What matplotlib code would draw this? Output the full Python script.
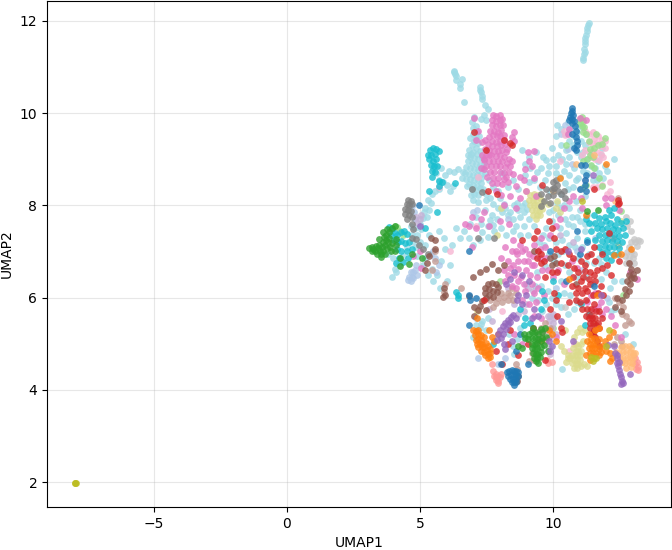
#!/usr/bin/env python3
# -*- coding: utf-8 -*-
import matplotlib
matplotlib.use('Agg')
import matplotlib.pyplot as plt

# points, one list per colour (UMAP1, UMAP2)
light_cyan = [
    (11.35,11.95),(11.33,11.9),(11.3,11.84),(11.27,11.77),(11.25,11.7),(11.22,11.63),(11.2,11.56),(11.2,11.5),
    (11.17,11.38),(11.16,11.28),(11.19,11.32),(11.12,11.2),(11.12,11.15),
    (6.27,10.92),(6.3,10.88),(6.33,10.85),(6.37,10.8),(6.35,10.72),(6.58,10.74),(6.5,10.62),(6.5,10.55),
    (7.25,10.57),(7.27,10.5),(7.3,10.45),(7.33,10.38),(7.35,10.3),(6.64,10.24),(7.43,10.18),(7.55,10.08),
    (7.05,9.92),(7.3,9.88),(7.4,9.95),(7.5,9.85),(6.95,9.8),(7.15,9.6),(7.0,9.55),(6.9,9.45),(7.05,9.4),(7.2,9.35),
    (6.95,9.3),(7.1,9.25),(6.85,9.2),(7.0,9.15),(7.15,9.12),(7.25,9.18),(6.9,9.05),(7.05,9.02),(7.2,9.0),(7.35,9.05),
    (6.8,8.95),(6.95,8.92),(7.1,8.9),(7.25,8.88),(7.4,8.92),(6.75,8.82),(6.9,8.8),(7.05,8.78),(7.2,8.76),(7.35,8.8),
    (6.7,8.7),(6.85,8.68),(7.0,8.66),(7.15,8.65),(7.3,8.68),(7.45,8.7),(6.75,8.58),(6.9,8.56),(7.05,8.55),(7.2,8.54),
    (6.85,8.47),(7.0,8.45),(7.15,8.42),(7.3,8.48),(6.95,8.36),(7.1,8.33),(7.25,8.38),(7.05,8.25),(6.3,8.72),(6.1,8.75),
    (6.45,8.78),(6.6,8.6),(5.95,8.65),(5.85,8.5),(5.7,8.35),(5.55,8.3),(5.45,8.25),(5.7,8.55),(5.6,8.7),(5.5,8.8),
    (5.65,8.85),(5.8,8.8),(6.25,8.42),(6.15,8.3),(6.0,8.45),(5.4,8.05),(5.3,8.12),(5.2,7.95),(5.35,7.9),(5.15,7.85),
    (5.25,7.75),(5.1,7.72),(5.0,7.6),(5.05,7.48),(4.8,7.5),(4.9,7.35),(4.75,7.2),(4.7,7.35),(4.65,7.55),(4.85,7.1),
    (8.0,8.15),(8.3,8.4),(8.5,8.55),(8.7,8.35),(8.1,8.7),(7.6,8.55),(7.75,8.4),(7.5,8.25),(7.65,8.15),(7.95,8.3),
    (8.2,7.95),(8.4,7.85),(8.55,8.0),(8.7,7.9),(8.9,7.85),(8.75,7.75),(8.5,7.7),(8.3,7.8),(8.65,8.05),(8.95,8.05),
    (7.9,7.7),(7.7,7.8),(7.45,7.9),(7.55,7.55),(7.3,7.6),(7.1,7.75),(6.9,7.6),(7.8,7.45),(8.05,7.5),(8.25,7.35),
    (6.85,7.3),(6.65,7.45),(7.0,7.15),(7.25,7.25),(8.5,7.45),(8.75,7.35),(8.9,7.55),(9.1,7.7),(9.3,7.55),(9.05,7.35),
    (9.55,8.8),(9.8,8.7),(9.1,9.05),(9.35,9.15),(8.85,9.2),(8.95,8.9),(9.15,8.8),(8.95,8.65),(9.3,8.55),(9.5,8.4),
    (9.7,8.55),(9.9,8.3),(10.1,8.85),(10.2,9.1),(10.3,9.3),(10.1,9.5),(10.3,9.65),(10.15,9.75),(9.95,9.25),(9.75,8.98),
    (10.45,9.55),(10.6,9.4),(10.5,9.2),(10.35,9.0),(10.6,9.05),(10.75,9.3),(10.8,9.5),(10.65,9.65),(10.9,9.15),(11.05,9.4),
    (11.2,9.3),(11.05,9.05),(11.3,9.0),(11.25,9.55),(11.1,9.7),(11.45,8.85),(11.6,8.8),(11.7,8.95),(11.8,9.1),(11.85,9.25),
    (11.75,8.7),(11.65,8.55),(10.4,8.75),(10.6,8.65),(10.8,8.8),(10.95,8.6),(10.75,8.4),(10.55,8.35),(10.3,8.25),(10.15,8.05),
    (10.4,8.0),(10.6,7.95),(10.85,8.1),(11.05,8.35),(11.2,8.2),(11.0,7.9),(10.7,7.75),(10.45,7.7),(10.2,7.8),(9.95,7.65),
    (10.25,7.5),(10.5,7.4),(10.75,7.55),(11.0,7.65),(11.2,7.45),(10.9,7.3),(10.6,7.15),(10.35,7.25),(10.1,7.2),(9.85,7.3),
    (9.65,7.15),(9.45,7.0),(9.85,6.95),(10.05,6.8),(11.3,7.8),(11.45,7.6),(11.1,7.1),(10.95,6.85),(11.35,6.95),(11.55,6.75),
    (11.75,6.85),(12.0,6.55),(12.3,6.35),(11.8,6.4),(11.5,6.3),(11.25,6.45),(10.9,6.45),(10.6,6.55),(10.45,6.7),(10.3,6.35),
    (10.65,6.05),(10.9,5.9),(10.55,5.65),(10.3,5.8),(9.95,6.0),(9.75,5.85),(9.6,5.7),(9.9,5.6),(8.5,4.95),(8.65,5.1),
    (8.35,5.2),(7.55,5.55),(7.35,5.5),(7.1,5.4),(7.25,5.35),(7.5,5.3),(6.0,6.35),(5.75,6.2),(5.5,6.35),(4.9,6.9),(5.1,6.7),
    (5.3,6.5),(5.45,6.62),(5.65,6.5),(5.2,6.85),(4.1,6.55),(3.95,6.45),(4.05,6.62),(4.2,6.7),(4.35,6.9),(4.5,7.1),(3.8,6.95),
    (4.0,6.85),(9.0,6.3),(9.4,6.55),(9.55,6.25),(9.2,6.0),(9.45,5.95),(13.0,5.0),(12.1,5.9),(12.35,5.75),
    (6.98,9.68),(7.12,9.72),(7.22,9.5),(6.92,9.12),(7.12,9.48),(6.82,9.08),(7.28,8.6),(6.62,8.72),(6.78,8.42),(7.38,8.35),
    (7.18,8.22),(6.92,8.22),(7.0,8.12),(7.2,8.08),(7.48,8.12),(7.75,8.02),(7.92,7.95),(8.1,7.85),(7.62,7.68),(7.32,7.42),
    (7.55,7.32),(7.75,7.58),(8.62,7.55),(8.82,7.98),(9.02,7.92),(9.1,8.5),(9.42,8.72),(9.62,9.05),(9.85,8.85),(10.02,9.0),
    (10.25,8.62),(10.5,8.9),(10.85,8.55),(11.15,8.75),(10.45,8.48),(10.12,8.7),(10.9,7.75),(10.55,7.6),(10.3,7.95),(10.02,7.9),
    (9.85,7.85),(9.75,7.5),(9.62,7.35),(9.48,7.2),(10.82,7.1),(11.22,7.6),(10.38,7.02),(9.72,6.68),(10.2,6.95),(10.42,6.1),
    (10.12,5.85),(10.78,5.75),(9.82,6.15),(9.32,6.25),(12.3,9.0),(11.95,8.85),(10.95,9.75),(10.55,9.8),(10.9,9.6),(11.15,9.15),
    (11.3,8.7),(11.5,8.55),(11.9,8.6),(12.02,8.75),(11.82,6.72),(11.25,6.75),(12.2,5.7),(12.15,6.2),(12.6,6.35),(12.7,5.2),
    (7.0,5.15),(7.3,5.42),(8.75,5.35),(8.9,5.12),(8.55,4.78),(9.85,4.9),(10.35,4.45),(6.5,7.3),(6.2,7.15),(5.9,7.3),(6.35,7.5),
    (5.7,7.45),(5.95,7.05),(5.8,6.8),(6.15,6.7),(5.0,7.2),(5.2,7.15),(5.35,7.35),
]
pink = [
    (7.75,9.95),(7.85,9.93),(8.0,9.95),(7.7,9.85),(7.85,9.83),(8.0,9.85),(8.1,9.88),(7.7,9.75),(7.85,9.72),(8.0,9.74),(8.12,9.75),
    (7.78,9.62),(7.92,9.6),(8.05,9.63),(7.75,9.52),(7.9,9.5),(8.02,9.5),(8.15,9.53),(7.6,9.48),(7.45,9.42),(7.7,9.4),(7.85,9.38),
    (8.0,9.4),(8.15,9.42),(7.35,9.38),(7.55,9.33),(7.72,9.28),(7.88,9.28),(8.05,9.3),(8.2,9.32),(7.45,9.22),(7.6,9.2),(7.78,9.18),
    (7.95,9.18),(8.1,9.2),(8.25,9.15),(7.35,9.1),(7.5,9.08),(7.68,9.08),(7.85,9.06),(8.0,9.08),(8.18,9.05),(8.35,9.0),(7.4,8.98),
    (7.58,8.96),(7.75,8.95),(7.92,8.95),(8.1,8.95),(8.28,8.92),(7.5,8.85),(7.68,8.85),(7.85,8.85),(8.02,8.85),(8.2,8.82),(8.4,8.85),
    (7.62,8.72),(7.8,8.72),(8.0,8.72),(8.18,8.7),(8.35,8.72),(7.75,8.6),(7.95,8.6),(8.15,8.58),(7.9,8.48),(8.1,8.46),(7.85,8.3),
    (8.3,8.5),(7.05,9.9),(7.2,9.62),(7.1,9.42),(8.55,9.6),(8.45,9.48),(8.55,9.4),(8.4,8.2),(8.6,8.42),(8.75,8.62),(8.9,8.55),(8.95,8.78),
    (9.1,8.95),(9.2,8.85),(9.28,8.6),(9.0,8.3),(9.35,8.2),(8.75,8.15),(8.6,7.95),(9.05,9.15),(9.3,9.18),(8.15,8.0),(7.4,7.85),(7.3,7.7),
    (7.6,7.55),(6.95,7.75),(6.7,7.6),(6.85,7.55),(7.1,7.5),(8.0,7.65),(8.35,7.6),(8.5,7.25),(8.75,7.15),(8.45,7.0),(8.2,7.1),(8.65,6.95),
    (8.3,6.8),(8.05,6.85),(8.5,6.7),(8.7,6.62),(8.9,6.8),(9.1,6.95),(9.3,7.15),(9.55,7.3),(9.7,7.1),(9.9,7.35),(9.5,6.85),(9.3,6.7),(9.15,6.5),
    (9.0,6.6),(9.4,6.45),(9.6,6.6),(9.2,6.3),(8.95,6.15),(9.3,6.1),(8.7,6.35),(8.55,6.5),(8.45,6.25),(8.3,6.5),(8.15,6.6),(8.85,5.95),(9.1,5.85),
    (9.35,5.9),(9.55,5.55),(9.3,5.6),(10.1,7.55),(10.25,7.7),(10.4,7.95),(10.6,8.1),(10.75,8.2),(11.05,8.15),(11.1,7.95),(9.8,6.6),(10.0,6.45),
    (10.2,6.6),(10.4,6.3),(10.7,6.8),(10.9,6.65),(11.6,6.1),(11.8,5.9),(11.55,5.75),(11.85,5.65),(12.2,5.6),(12.35,5.4),(11.3,5.9),(12.9,6.55),
    (13.15,6.4),(12.55,5.15),(12.5,7.9),(12.0,8.0),(11.95,8.15),(12.2,8.15),(11.0,9.9),(11.25,9.85),(10.55,9.55),(10.6,9.65),
    (5.0,7.0),(5.05,6.65),(7.4,9.0),(7.3,8.8),(6.95,7.1),(4.75,6.9),(8.55,5.2),(8.85,5.0),(9.6,5.25),(9.45,5.05),(10.1,5.15),
    (7.62,9.62),(7.58,9.1),(7.42,8.78),(7.72,8.48),(8.22,8.62),(8.28,9.22),(7.52,8.62),(8.05,8.22),(8.45,8.95),(8.5,8.68),
    (9.05,6.8),(8.8,6.45),(8.62,6.2),(8.4,6.65),(9.45,6.2),(9.65,6.05),(8.92,6.3),(9.2,6.7),(9.5,7.05),(8.95,7.05),(8.7,6.8),
    (8.2,6.35),(8.6,7.0),(8.85,7.0),(9.25,6.9),(9.75,6.85),(11.45,6.05),(11.7,5.8),(12.0,5.75),
]
light_pink = [
    (11.2,9.62),(11.35,9.55),(11.5,9.6),(11.55,9.45),(11.7,9.5),(11.85,9.42),(11.95,9.4),(11.35,9.38),(11.5,9.32),(11.65,9.35),(11.8,9.28),
    (11.95,9.25),(11.2,9.2),(11.35,9.15),(11.5,9.18),(11.65,9.15),(11.8,9.12),(11.1,9.1),(11.45,9.05),(11.6,9.0),(11.75,8.98),
    (11.9,9.05),(10.4,9.62),(10.45,9.52),(11.5,8.4),(11.65,8.4),(11.85,8.45),(12.15,8.5),(12.05,8.25),(12.15,8.3),(7.2,8.62),(10.25,8.95),
    (5.7,8.4),(6.15,7.0),(7.1,7.55),(8.1,5.7),(10.6,4.85),(10.8,5.0),
]
light_green = [
    (11.03,9.87),(11.1,9.92),(11.02,9.78),(11.12,9.82),(11.08,9.72),(11.18,9.7),(11.15,9.6),(11.25,9.55),(11.4,9.22),(11.55,9.25),(11.38,9.1),
    (11.5,9.05),(11.7,9.3),(11.95,9.47),(11.85,9.32),(11.3,9.0),(11.42,8.88),(11.55,8.8),(11.35,9.4),(11.62,9.55),(11.15,8.95),(10.5,9.3),
    (11.72,8.6),(11.85,8.42),(11.25,8.45),(11.1,8.38),(12.55,7.87),(4.15,7.52),(4.25,7.45),(4.05,7.55),(4.35,7.35),(8.0,6.35),(10.0,5.35),(12.65,6.05),
]
light_blue = [
    (4.65,6.35),(4.7,6.45),(4.75,6.55),(4.85,6.7),(4.8,6.6),(4.65,6.55),(4.6,6.45),(4.75,6.42),(4.55,6.38),(4.9,6.5),(5.4,6.95),(5.5,7.0),
    (5.55,6.85),(5.6,6.55),(5.7,6.7),(4.7,7.98),(4.78,7.85),(4.8,7.7),(7.0,7.85),(7.15,7.9),(8.15,8.02),(8.3,7.7),(10.1,6.2),(12.05,6.0),(10.3,9.55),
    (10.45,9.75),(10.55,9.22),(10.7,8.9),(7.95,4.55),(8.2,4.7),(7.1,5.55),(7.2,4.7),(10.9,7.0),(11.1,6.6),(11.6,7.3),
]
cyan_dark = [
    (5.38,9.2),(5.5,9.25),(5.6,9.22),(5.3,9.1),(5.42,9.08),(5.55,9.12),(5.7,9.18),(5.35,9.0),(5.48,8.97),(5.62,9.0),(5.4,8.87),(5.52,8.85),(5.65,8.85),
    (5.45,8.75),(5.55,8.72),(5.45,8.62),(5.7,8.52),(5.72,8.42),(5.82,8.5),(5.35,8.3),(6.32,8.48),(5.63,7.85),(3.85,7.52),(3.95,7.48),(4.05,7.4),(3.9,7.35),
    (4.15,7.35),(4.28,7.42),(4.4,7.45),(4.5,7.38),(4.02,7.25),(4.18,7.2),(4.3,7.22),(4.45,7.18),(4.6,7.2),(4.15,7.05),(4.3,7.0),(4.5,7.0),(4.7,7.05),
    (4.2,6.85),(4.1,6.75),(4.35,6.78),(4.55,6.85),(5.2,7.5),(6.35,6.12),(6.45,6.05),(6.42,5.98),(7.75,5.0),
    (11.55,7.78),(11.75,7.72),(11.95,7.75),(12.2,7.8),(12.4,7.7),(11.6,7.62),(11.8,7.6),(12.0,7.65),(12.15,7.62),(12.35,7.58),(12.55,7.62),(11.65,7.5),(11.85,7.48),
    (12.05,7.5),(12.25,7.48),(12.45,7.46),(12.65,7.5),(11.75,7.36),(11.95,7.35),(12.12,7.38),(12.3,7.35),(12.5,7.34),(12.7,7.35),(11.6,7.25),(11.85,7.22),(12.05,7.25),
    (12.22,7.22),(12.4,7.22),(12.6,7.2),(11.75,7.1),(11.95,7.12),(12.12,7.1),(12.3,7.1),(12.5,7.08),(11.85,6.98),(12.05,6.98),(12.25,6.95),(12.45,6.95),(12.0,6.85),
    (12.2,6.82),(11.35,7.62),(11.45,7.45),(12.1,7.9),(12.3,7.95),(11.3,7.25),(11.25,7.7),(12.75,7.65),(9.55,5.75),(9.65,5.95),(9.6,6.15),(10.0,6.35),(10.2,6.05),
    (11.35,5.65),(11.05,5.85),(11.2,5.4),(8.95,5.55),(8.75,5.75),(8.9,5.4),(9.15,5.45),
]
gray = [
    (4.55,8.12),(4.65,8.1),(4.5,8.02),(4.6,8.0),(4.72,8.02),(4.45,7.92),(4.55,7.9),(4.68,7.88),(4.45,7.82),(4.58,7.78),(4.5,7.7),(4.72,7.75),(4.7,7.6),(4.75,7.48),
    (4.85,7.28),(4.95,7.15),(5.1,7.05),(5.3,6.95),(4.7,7.3),(6.95,8.35),(7.2,7.3),(7.35,8.28),(9.55,8.25),(9.65,8.1),(9.8,8.2),(9.9,8.05),(9.95,8.35),(10.0,8.5),(10.1,8.55),
    (10.15,8.45),(10.05,8.38),(10.2,8.3),(10.3,8.25),(10.4,8.3),(10.0,8.22),(9.75,8.35),(10.45,8.15),(9.55,7.98),(7.8,7.3),
]
light_gray = [
    (12.75,7.75),(12.9,7.65),(12.8,7.55),(12.95,7.45),(13.05,7.28),(13.2,7.25),(13.28,7.22),(13.1,7.2),(12.95,7.2),(12.85,7.1),(13.15,7.12),(12.8,6.98),(12.95,6.98),
    (13.05,6.95),(12.7,6.9),(12.85,6.85),(13.0,6.85),(12.9,6.72),(13.05,6.75),(12.75,6.75),(11.0,8.35),(10.45,5.8),(9.8,4.95),
]
brown = [
    (7.55,6.3),(7.7,6.32),(7.85,6.3),(7.95,6.22),(7.45,6.2),(7.6,6.18),(7.75,6.15),(7.9,6.12),(7.45,6.1),(7.6,6.05),(7.75,6.02),(7.5,5.98),(7.35,5.92),(7.25,5.82),
    (7.2,5.72),(7.05,5.6),(7.0,6.45),(7.25,6.55),(7.5,6.62),(7.7,6.72),(7.95,6.6),(8.15,6.7),(5.9,6.2),(5.95,6.05),(5.85,6.02),(6.85,6.03),(7.5,5.72),(7.05,5.8),
    (12.85,6.75),(12.95,6.62),(13.0,6.52),(12.85,6.48),(12.95,6.42),(12.8,6.35),(12.9,6.3),(13.05,6.42),(12.7,6.18),(12.85,6.15),(12.75,6.05),(12.6,5.95),(12.4,6.0),
    (12.35,5.8),(12.55,5.7),(13.15,6.6),(10.05,6.9),(9.9,6.85),(10.1,6.75),(9.95,6.7),(9.3,7.0),(8.65,4.2),(8.7,4.3),(10.85,6.3),
    (5.25,6.75),(5.2,6.6),(5.35,6.9),(5.55,7.05),(5.4,7.3),(5.55,7.25),
]
light_brown = [
    (8.05,6.1),(8.15,6.02),(8.3,6.1),(8.4,6.05),(7.95,5.98),(7.85,5.88),(8.1,5.9),(8.3,5.95),(8.5,5.95),(8.45,6.2),(8.6,6.1),(7.65,5.95),(7.75,5.8),
    (9.7,5.45),(9.55,5.35),(9.75,5.3),(9.6,5.15),(9.85,5.15),(9.4,5.25),(9.9,5.35),(9.7,5.05),(9.2,4.8),(9.3,4.65),(9.1,4.62),(9.35,4.75),(8.65,4.45),(8.6,4.55),
    (12.6,5.65),(12.75,5.6),(12.85,5.5),(12.95,5.45),(12.7,5.4),(12.35,6.0),(12.5,5.9),(12.65,5.8),(12.4,5.15),(12.55,5.05),(12.6,4.95),(12.3,5.0),(12.25,7.3),
    (5.9,6.12),(5.95,6.3),(6.55,6.2),(5.55,7.0),(5.45,6.6),(5.55,6.8),(12.45,8.15),
]
red = [
    (7.05,9.6),(8.15,9.42),(8.4,9.35),(8.45,9.3),(7.5,9.2),(7.55,8.3),(7.9,8.25),(11.55,8.35),(12.45,8.12),(12.45,8.02),(12.5,8.05),
    (10.05,7.3),(10.1,7.05),(10.3,7.0),(10.6,6.95),(10.75,6.85),(10.55,6.7),(10.8,6.65),(11.05,6.8),(10.95,6.55),(11.2,6.7),(11.3,6.9),(11.45,6.95),(11.6,6.8),
    (11.15,6.45),(11.4,6.55),(11.65,6.6),(11.85,6.65),(12.05,6.7),(10.7,6.25),(10.95,6.2),(11.2,6.2),(11.4,6.3),(11.6,6.35),(11.8,6.25),(10.6,5.9),(10.85,5.95),(11.0,5.9),
    (11.25,5.95),(11.5,6.05),(11.7,6.1),(11.9,6.05),(11.1,5.75),(11.3,5.75),(11.55,5.85),(11.75,5.7),(11.45,5.62),(11.6,5.55),(11.35,5.55),(11.5,5.45),(11.7,5.45),(11.85,5.55),
    (11.4,5.35),(11.55,5.3),(11.75,5.35),(11.45,5.2),(11.6,5.15),(11.65,5.05),(11.75,4.95),(10.3,6.75),(9.95,6.55),(9.7,6.45),(9.55,6.75),(9.45,7.0),(9.55,6.95),(9.65,6.8),(9.4,6.85),
    (10.05,6.1),(10.1,5.95),(9.3,7.3),(8.85,7.25),(10.15,6.55),(10.45,7.05),(11.1,6.1),(12.2,6.5),(11.85,6.95),(11.55,7.1),(11.3,6.15),(9.9,5.75),(9.85,7.65),(9.4,7.45),(9.95,7.5),
    (10.3,5.35),(9.25,5.35),(9.05,5.0),(8.7,4.75),(9.7,4.65),(8.3,5.0),(7.85,4.85),(8.1,4.55),(8.4,5.3),(10.15,5.6),(10.35,5.25),(12.1,7.4),(12.5,6.8),(9.6,8.45),(7.4,5.95),
    (11.42,5.75),(11.62,5.7),(11.25,5.6),(11.48,5.55),(11.38,5.45),(11.62,5.4),(11.52,5.22),(11.05,6.35),(11.35,6.4),(11.55,6.5),(11.22,6.58),(10.85,6.1),(10.75,6.45),
]
light_red = [
    (7.75,4.4),(7.8,4.3),(7.87,4.35),(7.93,4.3),(7.85,4.22),(7.92,4.2),(8.02,4.28),(8.05,4.35),(7.72,4.55),(7.95,4.15),
    (13.0,4.75),(13.1,4.68),(13.17,4.6),(13.2,4.5),(13.1,4.55),(13.2,4.42),(13.12,4.45),(9.95,4.6),(9.82,4.58),(9.78,4.65),(7.85,4.28),
]
blue = [
    (10.7,10.12),(10.72,10.05),(10.68,10.0),(10.75,9.95),(10.65,9.92),(10.72,9.88),(10.62,9.85),(10.78,9.82),(10.7,9.78),(10.82,9.72),(10.85,9.62),(10.72,9.55),
    (10.85,9.48),(10.9,9.4),(10.8,9.25),(10.85,9.2),(10.9,9.3),(11.22,8.88),(11.2,8.55),(11.2,8.45),(11.25,8.65),(11.05,8.88),(11.0,8.35),(11.25,8.3),
    (8.28,4.38),(8.36,4.4),(8.45,4.42),(8.55,4.4),(8.63,4.4),(8.7,4.38),(8.32,4.3),(8.42,4.32),(8.52,4.32),(8.6,4.32),(8.68,4.3),(8.4,4.24),(8.5,4.24),(8.6,4.24),(8.45,4.17),
    (8.52,4.17),(8.55,4.1),(8.62,4.18),(8.05,4.55),(9.05,4.55),(6.86,6.05),(6.87,5.95),(6.85,5.4),(7.1,6.0),(8.75,5.2),(8.6,4.85),(10.5,6.35),(11.55,6.25),(11.0,6.95),(9.9,7.0),(4.98,8.0),
    (6.85,7.0),(10.9,7.45),(11.3,7.2),
]
orange = [
    (7.1,5.28),(7.2,5.3),(7.08,5.18),(7.18,5.2),(7.28,5.18),(7.1,5.08),(7.2,5.1),(7.3,5.08),(7.42,5.15),(7.15,5.0),(7.25,5.0),(7.35,5.0),(7.48,5.02),(7.2,4.92),
    (7.32,4.92),(7.42,4.92),(7.55,4.95),(7.3,4.84),(7.42,4.82),(7.52,4.86),(7.62,4.88),(7.45,4.75),(7.55,4.77),(7.65,4.8),(7.55,4.7),(7.65,4.72),(7.7,5.15),(7.8,5.05),(7.95,5.2),
    (7.6,5.3),(7.15,5.55),(7.0,5.3),(9.55,5.05),(9.85,5.3),(9.95,5.2),(10.1,5.05),
    (11.35,5.2),(11.45,5.1),(11.55,5.12),(11.3,5.05),(11.4,5.0),(11.5,5.0),(11.62,5.0),(11.75,5.1),(11.35,4.9),(11.48,4.9),(11.6,4.9),(11.72,4.88),(11.85,4.95),(11.95,5.05),
    (11.38,4.8),(11.5,4.8),(11.62,4.8),(11.25,4.75),(11.72,4.75),(11.82,4.82),(12.0,4.85),(12.15,4.8),(12.22,4.7),(12.15,4.62),(11.4,4.65),(11.6,5.3),(11.75,5.35),
    (12.1,5.15),(12.25,5.25),(11.65,6.05),(10.6,6.4),(11.25,7.8),(12.3,6.92),(12.55,6.95),(10.25,8.6),(12.95,7.05),(12.0,8.9),
]
light_orange = [
    (12.55,4.92),(12.7,4.95),(12.85,4.95),(12.95,4.9),(12.5,4.8),(12.62,4.82),(12.75,4.82),(12.88,4.82),(13.0,4.8),(13.1,4.8),(12.52,4.7),(12.65,4.7),(12.78,4.7),(12.9,4.72),
    (13.0,4.68),(12.6,4.6),(12.72,4.58),(12.85,4.6),(12.98,4.58),(12.95,4.5),(12.75,4.48),(12.38,4.82),(11.55,9.1),(10.85,8.9),(12.45,7.15),(12.35,8.1),(10.0,8.3),
]
green = [
    (3.1,7.08),(3.18,7.1),(3.25,7.05),(3.2,7.0),(3.35,7.12),(3.32,7.0),(3.42,7.08),(3.4,6.95),(3.5,7.02),(3.48,7.15),(3.55,6.95),(3.58,7.1),(3.62,7.02),(3.6,7.2),(3.55,6.88),
    (3.68,7.15),(3.7,6.95),(3.72,7.25),(3.65,7.32),(3.78,7.08),(3.8,7.2),(3.72,7.35),(3.85,7.3),(3.82,7.42),(3.78,7.48),(3.88,7.1),(3.95,7.18),(3.95,7.5),(4.05,7.55),(4.1,7.15),(4.05,7.02),
    (3.9,7.0),(3.6,7.42),(3.48,7.28),(4.25,6.85),(4.1,7.28),(5.07,6.85),(4.6,6.72),(4.7,6.95),(4.25,6.68),
    (9.1,5.2),(9.2,5.25),(9.32,5.25),(9.45,5.2),(9.58,5.25),(8.95,5.12),(9.08,5.1),(9.2,5.12),(9.32,5.12),(9.45,5.1),(9.6,5.12),(9.75,5.15),(9.2,5.0),(9.32,5.0),(9.42,5.02),(9.55,5.05),
    (9.22,4.9),(9.32,4.88),(9.42,4.9),(9.55,4.92),(9.68,4.98),(9.25,4.8),(9.35,4.78),(9.45,4.78),(9.55,4.82),(9.3,4.7),(9.4,4.7),(9.5,4.72),(9.38,4.62),(8.9,5.2),(9.72,5.35),(9.8,4.85),
    (9.25,5.35),(9.55,5.32),(9.45,4.58),(8.7,4.95),(8.85,4.9),(11.3,7.88),(11.7,7.9),
]
purple = [
    (8.5,5.62),(8.42,5.58),(8.3,5.52),(8.4,5.48),(8.2,5.45),(8.32,5.42),(8.12,5.38),(8.22,5.32),(8.02,5.3),(8.12,5.22),(7.95,5.2),(8.05,5.12),(7.9,5.08),(8.15,5.0),(8.2,4.88),(8.45,5.05),
    (8.6,5.55),(8.85,5.85),(8.7,6.05),(8.4,6.4),(8.55,6.55),(8.25,6.3),(9.0,6.05),(8.85,6.5),(9.1,6.35),(9.3,5.75),(9.45,5.6),(9.2,5.55),(8.65,5.95),
    (12.35,4.8),(12.4,4.68),(12.42,4.58),(12.45,4.52),(12.5,4.42),(12.52,4.35),(12.55,4.28),(12.6,4.2),(12.62,4.15),(12.55,4.12),(12.48,4.6),(12.42,4.75),(12.08,4.98),(12.3,4.95),(12.88,4.35),
    (9.9,4.85),(9.85,5.05),(9.95,4.95),(10.3,5.5),(5.0,7.55),(10.75,5.05),(10.55,7.0),(11.05,7.05),(11.8,6.05),(11.5,8.65),
]
light_purple = [
    (10.0,5.65),(10.05,5.55),(10.0,5.45),(9.85,5.5),(9.95,5.35),(10.1,5.2),(9.8,5.6),(9.9,4.78),(8.7,5.65),(8.9,5.7),(9.0,5.85),(9.25,6.15),(9.05,6.2),
    (8.3,6.2),(8.55,5.85),(9.85,5.15),(10.75,7.2),(10.25,7.35),(7.6,5.75),(7.7,5.5),(5.05,7.8),(5.0,7.7),(11.2,8.55),(4.9,7.62),(4.85,7.75),
]
olive = [(-7.95,1.98),(-7.92,1.99),(-7.98,1.97),(11.45,4.72),(11.55,4.7),(11.5,4.62),(11.62,4.68),(12.0,4.95),(12.1,5.3),(11.1,8.1)]
light_olive = [
    (9.15,8.22),(9.3,8.25),(9.45,8.22),(9.12,8.12),(9.25,8.12),(9.38,8.12),(9.5,8.15),(9.6,8.1),(9.15,8.0),(9.28,8.0),(9.42,8.0),(9.55,8.0),(9.2,7.9),(9.35,7.9),(9.48,7.88),(9.6,7.92),
    (9.25,7.8),(9.4,7.78),(9.5,7.78),(9.35,7.7),(9.0,8.3),(9.82,8.02),(10.1,7.95),(10.25,7.85),(10.15,8.1),(8.05,7.95),
    (10.85,5.0),(10.95,4.95),(11.05,5.0),(11.12,5.05),(10.8,5.15),(10.9,5.25),(11.1,5.25),(11.2,5.3),(10.75,4.9),(10.85,4.85),(10.95,4.85),(11.05,4.85),(10.7,4.75),(10.82,4.75),(10.92,4.75),
    (11.02,4.75),(10.55,4.7),(10.65,4.68),(10.78,4.65),(10.9,4.65),(11.0,4.65),(10.5,4.6),(10.72,4.58),(10.85,4.55),(10.95,4.55),(11.05,4.52),(11.18,4.55),(11.3,4.52),(10.8,4.48),(10.9,4.47),
    (10.3,4.95),(10.4,4.85),(10.55,4.75),(9.98,5.3),(7.15,5.7),(7.9,7.35),(11.55,5.45),(11.0,5.35),(10.45,5.3),(12.55,7.65),
]

series = [
    ('#9edae5', light_cyan), ('#aec7e8', light_blue), ('#f7b6d2', light_pink), ('#98df8a', light_green),
    ('#dbdb8d', light_olive), ('#c5b0d5', light_purple), ('#c49c94', light_brown), ('#c7c7c7', light_gray),
    ('#ff9896', light_red), ('#ffbb78', light_orange), ('#e377c2', pink), ('#17becf', cyan_dark),
    ('#7f7f7f', gray), ('#8c564b', brown), ('#d62728', red), ('#1f77b4', blue),
    ('#ff7f0e', orange), ('#2ca02c', green), ('#9467bd', purple), ('#bcbd22', olive),
]

fig, ax = plt.subplots(figsize=(6.72, 5.5), dpi=100)
for colore, punti in series:
    xs = [p[0] for p in punti]
    ys = [p[1] for p in punti]
    ax.scatter(xs, ys, s=24, c=colore, alpha=0.8, linewidths=0)

ax.set_xlim(-9.02, 14.44)
ax.set_ylim(1.46, 12.44)
ax.set_xticks([-5, 0, 5, 10])
ax.set_yticks([2, 4, 6, 8, 10, 12])
ax.set_xlabel('UMAP1')
ax.set_ylabel('UMAP2')
ax.grid(True, alpha=0.3)
ax.set_axisbelow(True)
fig.subplots_adjust(left=47/672, right=671/672, top=549.5/550, bottom=1-507/550)
fig.savefig('out.png', dpi=100)
